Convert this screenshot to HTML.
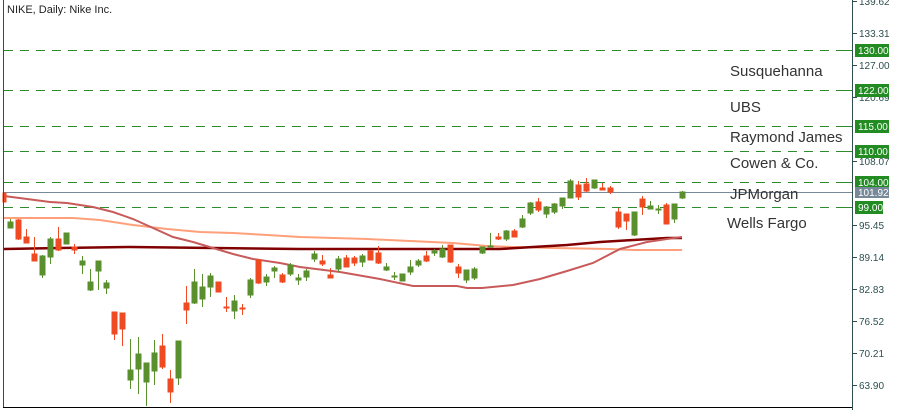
<!DOCTYPE html>
<html><head><meta charset="utf-8"><style>
html,body{margin:0;padding:0;background:#fff;}
svg{display:block;font-family:"Liberation Sans",sans-serif;}
</style></head><body>
<svg width="900" height="410" viewBox="0 0 900 410" xmlns="http://www.w3.org/2000/svg">
<rect x="0" y="0" width="900" height="410" fill="#fff"/>
<g stroke="#2e8b2e" stroke-width="1" stroke-dasharray="9,7">
<line x1="4" x2="852" y1="50.5" y2="50.5"/>
<line x1="4" x2="852" y1="90.5" y2="90.5"/>
<line x1="4" x2="852" y1="126.5" y2="126.5"/>
<line x1="4" x2="852" y1="151.5" y2="151.5"/>
<line x1="4" x2="852" y1="182.5" y2="182.5"/>
<line x1="4" x2="852" y1="207.5" y2="207.5"/>
</g>
<line x1="4" x2="852" y1="192.5" y2="192.5" stroke="#778899" stroke-width="1"/>
<polyline fill="none" stroke="#ffa07a" stroke-width="2" points="4,218 73,218 100,220 133,225 167,229 200,232 233,233 267,235 300,237 367,239 410,241 453,243 487,246 513,247 553,248 610,249 633,250 682,250"/>
<polyline fill="none" stroke="#800000" stroke-width="2.5" points="4,249 60,248 130,247 300,249 500,249 533,247 567,245 600,242 633,240 667,238 682,238"/>
<polyline fill="none" stroke="#c85a5a" stroke-width="2" points="4,196 50,202 67,203 93,207 113,212 133,219 153,228 173,237 193,242 213,248 233,254 253,259 280,263 300,267 340,272 380,279 413,286 457,286 467,288 482,288 513,285 540,279 567,271 593,263 620,249 647,242 667,239 682,237"/>
<g stroke="#5a8f2e" fill="#5a8f2e" stroke-width="1">
<line x1="10.5" x2="10.5" y1="219" y2="228"/><rect x="8" y="222" width="5" height="6"/>
<line x1="42.5" x2="42.5" y1="255" y2="278"/><rect x="40" y="256" width="5" height="19"/>
<line x1="50.5" x2="50.5" y1="237" y2="264"/><rect x="48" y="239" width="5" height="18"/>
<line x1="66.5" x2="66.5" y1="233" y2="244"/><rect x="64" y="233" width="5" height="11"/>
<line x1="82.5" x2="82.5" y1="256" y2="274"/><rect x="80" y="261" width="5" height="4"/>
<line x1="90.5" x2="90.5" y1="269" y2="291"/><rect x="88" y="282" width="5" height="8"/>
<line x1="98.5" x2="98.5" y1="261" y2="290"/><rect x="96" y="261" width="5" height="10"/>
<line x1="106.5" x2="106.5" y1="280" y2="294"/><rect x="104" y="283" width="5" height="5"/>
<line x1="130.5" x2="130.5" y1="339" y2="389"/><rect x="128" y="370" width="5" height="10"/>
<line x1="138.5" x2="138.5" y1="337" y2="394"/><rect x="136" y="354" width="5" height="15"/>
<line x1="146.5" x2="146.5" y1="363" y2="406"/><rect x="144" y="363" width="5" height="19"/>
<line x1="154.5" x2="154.5" y1="340" y2="385"/><rect x="152" y="353" width="5" height="18"/>
<line x1="178.5" x2="178.5" y1="341" y2="385"/><rect x="176" y="341" width="5" height="37"/>
<line x1="194.5" x2="194.5" y1="269" y2="304"/><rect x="192" y="282" width="5" height="21"/>
<line x1="202.5" x2="202.5" y1="274" y2="307"/><rect x="200" y="287" width="5" height="12"/>
<line x1="210.5" x2="210.5" y1="273" y2="297"/><rect x="208" y="276" width="5" height="11"/>
<line x1="234.5" x2="234.5" y1="295" y2="319"/><rect x="232" y="301" width="5" height="10"/>
<line x1="250.5" x2="250.5" y1="278" y2="298"/><rect x="248" y="280" width="5" height="15"/>
<line x1="266.5" x2="266.5" y1="274" y2="286"/><rect x="264" y="277" width="5" height="5"/>
<line x1="274.5" x2="274.5" y1="266" y2="278"/><rect x="272" y="268" width="5" height="3"/>
<line x1="290.5" x2="290.5" y1="263" y2="276"/><rect x="288" y="265" width="5" height="9"/>
<line x1="298.5" x2="298.5" y1="274" y2="285"/><rect x="296" y="278" width="5" height="2"/>
<line x1="306.5" x2="306.5" y1="269" y2="281"/><rect x="304" y="271" width="5" height="6"/>
<line x1="314.5" x2="314.5" y1="251" y2="262"/><rect x="312" y="254" width="5" height="5"/>
<line x1="338.5" x2="338.5" y1="256" y2="272"/><rect x="336" y="259" width="5" height="10"/>
<line x1="362.5" x2="362.5" y1="254" y2="267"/><rect x="360" y="256" width="5" height="6"/>
<line x1="386.5" x2="386.5" y1="263" y2="271"/><rect x="384" y="267" width="5" height="3"/>
<line x1="394.5" x2="394.5" y1="272" y2="280"/><rect x="392" y="276" width="5" height="1"/>
<line x1="402.5" x2="402.5" y1="274" y2="281"/><rect x="400" y="274" width="5" height="7"/>
<line x1="410.5" x2="410.5" y1="260" y2="275"/><rect x="408" y="267" width="5" height="5"/>
<line x1="418.5" x2="418.5" y1="259" y2="267"/><rect x="416" y="261" width="5" height="4"/>
<line x1="434.5" x2="434.5" y1="249" y2="256"/><rect x="432" y="251" width="5" height="2"/>
<line x1="442.5" x2="442.5" y1="245" y2="258"/><rect x="440" y="249" width="5" height="8"/>
<line x1="466.5" x2="466.5" y1="270" y2="283"/><rect x="464" y="270" width="5" height="10"/>
<line x1="474.5" x2="474.5" y1="267" y2="280"/><rect x="472" y="269" width="5" height="9"/>
<line x1="482.5" x2="482.5" y1="247" y2="254"/><rect x="480" y="247" width="5" height="6"/>
<line x1="490.5" x2="490.5" y1="233" y2="247"/><rect x="488" y="246" width="5" height="1"/>
<line x1="506.5" x2="506.5" y1="230" y2="241"/><rect x="504" y="231" width="5" height="8"/>
<line x1="522.5" x2="522.5" y1="215" y2="228"/><rect x="520" y="219" width="5" height="8"/>
<line x1="530.5" x2="530.5" y1="202" y2="215"/><rect x="528" y="203" width="5" height="10"/>
<line x1="546.5" x2="546.5" y1="206" y2="218"/><rect x="544" y="207" width="5" height="7"/>
<line x1="554.5" x2="554.5" y1="203" y2="214"/><rect x="552" y="204" width="5" height="8"/>
<line x1="562.5" x2="562.5" y1="198" y2="209"/><rect x="560" y="198" width="5" height="8"/>
<line x1="570.5" x2="570.5" y1="179" y2="198"/><rect x="568" y="181" width="5" height="17"/>
<line x1="594.5" x2="594.5" y1="180" y2="189"/><rect x="592" y="180" width="5" height="8"/>
<line x1="634.5" x2="634.5" y1="212" y2="236"/><rect x="632" y="212" width="5" height="23"/>
<line x1="650.5" x2="650.5" y1="201" y2="209"/><rect x="648" y="206" width="5" height="3"/>
<line x1="658.5" x2="658.5" y1="205" y2="214"/><rect x="656" y="209" width="5" height="1"/>
<line x1="674.5" x2="674.5" y1="204" y2="223"/><rect x="672" y="204" width="5" height="15"/>
<line x1="682.5" x2="682.5" y1="191" y2="199"/><rect x="680" y="192" width="5" height="6"/>
</g>
<g stroke="#f04a23" fill="#f04a23" stroke-width="1">
<line x1="4.5" x2="4.5" y1="193" y2="202"/><rect x="3" y="193" width="3" height="9"/>
<line x1="18.5" x2="18.5" y1="219" y2="240"/><rect x="16" y="220" width="5" height="19"/>
<line x1="26.5" x2="26.5" y1="229" y2="243"/><rect x="24" y="237" width="5" height="6"/>
<line x1="34.5" x2="34.5" y1="237" y2="261"/><rect x="32" y="254" width="5" height="7"/>
<line x1="58.5" x2="58.5" y1="227" y2="251"/><rect x="56" y="239" width="5" height="11"/>
<line x1="74.5" x2="74.5" y1="244" y2="254"/><rect x="72" y="247" width="5" height="3"/>
<line x1="114.5" x2="114.5" y1="312" y2="340"/><rect x="112" y="312" width="5" height="22"/>
<line x1="122.5" x2="122.5" y1="313" y2="346"/><rect x="120" y="313" width="5" height="16"/>
<line x1="162.5" x2="162.5" y1="334" y2="369"/><rect x="160" y="346" width="5" height="21"/>
<line x1="170.5" x2="170.5" y1="370" y2="403"/><rect x="168" y="379" width="5" height="13"/>
<line x1="186.5" x2="186.5" y1="286" y2="324"/><rect x="184" y="303" width="5" height="7"/>
<line x1="218.5" x2="218.5" y1="282" y2="292"/><rect x="216" y="282" width="5" height="10"/>
<line x1="226.5" x2="226.5" y1="297" y2="312"/><rect x="224" y="307" width="5" height="1"/>
<line x1="242.5" x2="242.5" y1="304" y2="315"/><rect x="240" y="308" width="5" height="1"/>
<line x1="258.5" x2="258.5" y1="259" y2="284"/><rect x="256" y="260" width="5" height="23"/>
<line x1="282.5" x2="282.5" y1="273" y2="283"/><rect x="280" y="275" width="5" height="7"/>
<line x1="322.5" x2="322.5" y1="255" y2="266"/><rect x="320" y="261" width="5" height="3"/>
<line x1="330.5" x2="330.5" y1="268" y2="278"/><rect x="328" y="275" width="5" height="3"/>
<line x1="346.5" x2="346.5" y1="255" y2="267"/><rect x="344" y="258" width="5" height="9"/>
<line x1="354.5" x2="354.5" y1="256" y2="266"/><rect x="352" y="258" width="5" height="5"/>
<line x1="370.5" x2="370.5" y1="250" y2="260"/><rect x="368" y="251" width="5" height="9"/>
<line x1="378.5" x2="378.5" y1="246" y2="264"/><rect x="376" y="253" width="5" height="10"/>
<line x1="426.5" x2="426.5" y1="251" y2="262"/><rect x="424" y="256" width="5" height="5"/>
<line x1="450.5" x2="450.5" y1="245" y2="263"/><rect x="448" y="245" width="5" height="17"/>
<line x1="458.5" x2="458.5" y1="264" y2="278"/><rect x="456" y="267" width="5" height="6"/>
<line x1="498.5" x2="498.5" y1="233" y2="240"/><rect x="496" y="237" width="5" height="2"/>
<line x1="514.5" x2="514.5" y1="229" y2="237"/><rect x="512" y="231" width="5" height="6"/>
<line x1="538.5" x2="538.5" y1="198" y2="212"/><rect x="536" y="202" width="5" height="8"/>
<line x1="578.5" x2="578.5" y1="181" y2="200"/><rect x="576" y="185" width="5" height="12"/>
<line x1="586.5" x2="586.5" y1="178" y2="192"/><rect x="584" y="184" width="5" height="7"/>
<line x1="602.5" x2="602.5" y1="183" y2="190"/><rect x="600" y="188" width="5" height="2"/>
<line x1="610.5" x2="610.5" y1="186" y2="194"/><rect x="608" y="188" width="5" height="4"/>
<line x1="618.5" x2="618.5" y1="208" y2="229"/><rect x="616" y="212" width="5" height="15"/>
<line x1="626.5" x2="626.5" y1="214" y2="230"/><rect x="624" y="214" width="5" height="7"/>
<line x1="642.5" x2="642.5" y1="196" y2="215"/><rect x="640" y="199" width="5" height="8"/>
<line x1="666.5" x2="666.5" y1="203" y2="224"/><rect x="664" y="205" width="5" height="19"/>
</g>
<g font-size="15" fill="#333">
<text x="730" y="76">Susquehanna</text>
<text x="730" y="112">UBS</text>
<text x="730" y="142">Raymond James</text>
<text x="730" y="168">Cowen &amp; Co.</text>
<text x="730" y="199">JPMorgan</text>
<text x="727" y="228">Wells Fargo</text>
</g>
<line x1="3.5" x2="3.5" y1="0" y2="408" stroke="#2f4f4f" stroke-width="1"/>
<line x1="3" x2="852" y1="407.5" y2="407.5" stroke="#000" stroke-width="1"/>
<line x1="852.5" x2="852.5" y1="0" y2="410" stroke="#2f4f4f" stroke-width="1"/>
<text x="7" y="13" font-size="11" fill="#222">NIKE, Daily:  Nike Inc.</text>
<g stroke="#2f4f4f" stroke-width="1">
<line x1="852" x2="857" y1="1.5" y2="1.5"/><line x1="852" x2="857" y1="33.5" y2="33.5"/>
<line x1="852" x2="857" y1="65.5" y2="65.5"/><line x1="852" x2="857" y1="97.5" y2="97.5"/>
<line x1="852" x2="857" y1="161.5" y2="161.5"/><line x1="852" x2="857" y1="225.5" y2="225.5"/>
<line x1="852" x2="857" y1="257.5" y2="257.5"/><line x1="852" x2="857" y1="289.5" y2="289.5"/>
<line x1="852" x2="857" y1="321.5" y2="321.5"/><line x1="852" x2="857" y1="353.5" y2="353.5"/>
<line x1="852" x2="857" y1="385.5" y2="385.5"/>
</g>
<g font-size="10" fill="#2f4f4f">
<text x="859" y="5">139.62</text><text x="859" y="37">133.31</text>
<text x="859" y="69">127.00</text><text x="859" y="101">120.69</text>
<text x="859" y="165">108.07</text><text x="859" y="229">95.45</text>
<text x="859" y="261">89.14</text><text x="859" y="293">82.83</text>
<text x="859" y="325">76.52</text><text x="859" y="357">70.21</text>
<text x="859" y="389">63.90</text>
</g>
<g stroke="#2e8b2e"><line x1="842" x2="852" y1="50.5" y2="50.5"/><line x1="842" x2="852" y1="90.5" y2="90.5"/><line x1="842" x2="852" y1="126.5" y2="126.5"/><line x1="842" x2="852" y1="151.5" y2="151.5"/><line x1="842" x2="852" y1="182.5" y2="182.5"/><line x1="842" x2="852" y1="207.5" y2="207.5"/></g>
<g fill="#228b22">
<rect x="855" y="44" width="34" height="13"/><rect x="855" y="84" width="34" height="13"/>
<rect x="855" y="120" width="34" height="13"/><rect x="855" y="145" width="34" height="13"/>
<rect x="855" y="176" width="34" height="13"/><rect x="855" y="201" width="28" height="13"/>
</g>
<rect x="855" y="187" width="34" height="11" fill="#778899"/>
<g font-size="10" fill="#fff">
<text x="858" y="54">130.00</text><text x="858" y="94">122.00</text>
<text x="858" y="130">115.00</text><text x="858" y="155">110.00</text>
<text x="858" y="186">104.00</text><text x="858" y="196">101.92</text>
<text x="858" y="211">99.00</text>
</g>
</svg>
</body></html>
